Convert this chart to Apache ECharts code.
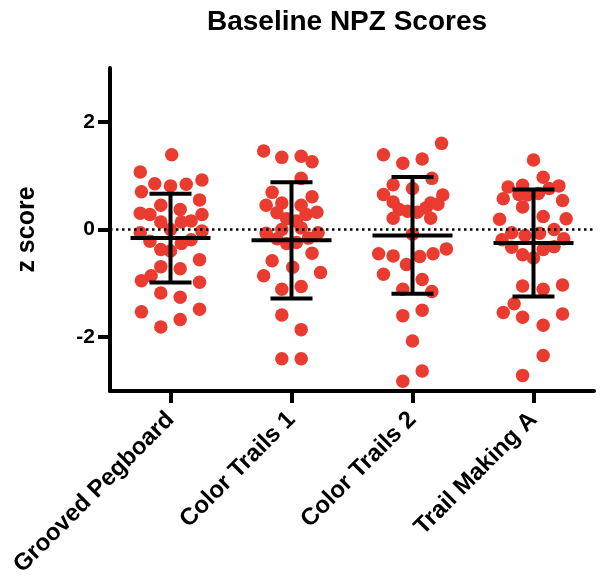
<!DOCTYPE html>
<html>
<head>
<meta charset="utf-8">
<script src="https://cdn.jsdelivr.net/npm/echarts@6/dist/echarts.min.js"></script>
<style>
html,body{margin:0;padding:0;background:#fff;}
#chart{width:602px;height:586px;}
</style>
</head>
<body>
<div id="chart"></div>
<script>
// ---- data ----
const chartTitle = 'Baseline NPZ Scores';
const yAxisName = 'z score';
const categories = ['Grooved Pegboard', 'Color Trails 1', 'Color Trails 2', 'Trail Making A'];
const yTickValues = [-2, 0, 2];

const groovedPegboard = [1.39, 1.07, 0.85, 0.81, 0.84, 0.92, 0.70, 0.55, 0.45, 0.37, 0.30, 0.28, 0.14, 0.28, 0.16, 0.14, 0.00, -0.06, -0.22, -0.03, -0.19, -0.26, -0.37, -0.40, -0.56, -0.69, -0.73, -0.86, -0.95, -0.98, -1.18, -1.26, -1.53, -1.48, -1.67, -1.81];
const groovedPegboardJitter = [0.01, -0.25, -0.13, 0.00, 0.13, 0.26, -0.24, 0.24, -0.08, 0.08, -0.25, -0.17, -0.08, 0.26, 0.17, 0.09, 0.00, -0.25, -0.17, 0.26, 0.17, 0.09, -0.08, 0.00, 0.24, -0.08, 0.08, -0.16, -0.24, 0.24, -0.08, 0.08, -0.24, 0.24, 0.08, -0.08];

const colorTrails1 = [1.46, 1.34, 1.36, 1.26, 0.95, 0.69, 0.61, 0.45, 0.49, 0.45, 0.32, 0.31, 0.20, 0.28, 0.16, 0.00, 0.03, -0.07, -0.06, -0.17, -0.26, -0.24, -0.16, -0.44, -0.58, -0.70, -0.86, -0.80, -1.11, -1.06, -1.59, -1.86, -2.40, -2.40];
const colorTrails1Jitter = [-0.23, -0.08, 0.08, 0.17, 0.08, -0.16, 0.17, -0.21, -0.08, 0.08, 0.21, -0.12, -0.04, 0.12, 0.04, -0.08, 0.08, -0.21, 0.22, -0.12, -0.04, 0.04, 0.14, 0.17, -0.16, 0.01, -0.23, 0.24, -0.08, 0.08, -0.08, 0.08, -0.08, 0.08];

const colorTrails2 = [1.60, 1.39, 1.23, 1.31, 0.95, 0.83, 0.76, 0.65, 0.64, 0.51, 0.49, 0.37, 0.34, 0.32, 0.40, 0.47, 0.21, 0.21, -0.09, -0.36, -0.45, -0.49, -0.50, -0.45, -0.65, -0.83, -0.93, -1.11, -1.15, -1.60, -1.50, -2.07, -2.63, -2.82];
const colorTrails2Jitter = [0.24, -0.24, -0.08, 0.08, 0.16, -0.16, 0.00, -0.24, 0.25, -0.16, 0.15, -0.11, -0.04, 0.04, 0.11, 0.21, -0.16, 0.15, 0.00, 0.28, -0.28, -0.16, 0.06, 0.17, -0.05, -0.24, 0.08, -0.08, 0.16, -0.08, 0.08, 0.00, 0.08, -0.08];

const trailMakingA = [1.29, 0.97, 0.79, 0.82, 0.76, 0.81, 0.57, 0.54, 0.65, 0.64, 0.67, 0.42, 0.19, 0.24, 0.20, 0.00, -0.19, -0.06, -0.11, -0.07, -0.17, -0.33, -0.47, -0.53, -0.37, -0.32, -1.05, -1.11, -1.03, -1.38, -1.54, -1.63, -1.57, -1.78, -2.34, -2.71];
const trailMakingAJitter = [0.00, 0.08, -0.21, -0.09, 0.13, 0.21, -0.25, 0.24, -0.12, -0.05, 0.04, -0.09, -0.28, 0.08, 0.27, 0.17, -0.26, -0.18, -0.07, 0.05, 0.25, -0.18, -0.09, 0.00, 0.08, 0.17, -0.09, 0.08, 0.24, -0.16, -0.25, -0.09, 0.24, 0.08, 0.08, -0.09];

const means = [-0.16, -0.20, -0.11, -0.25];
const sds = [0.825, 1.08, 1.085, 0.995];

// ---- build chart ----
const groups = [
  [groovedPegboard, groovedPegboardJitter],
  [colorTrails1, colorTrails1Jitter],
  [colorTrails2, colorTrails2Jitter],
  [trailMakingA, trailMakingAJitter]
];
const pointData = [];
groups.forEach(function (g, i) {
  g[0].forEach(function (v, k) { pointData.push([i + g[1][k], v]); });
});
const errData = means.map(function (m, i) { return [i, m, sds[i]]; });

const FONT = '"Liberation Sans", Arial, Helvetica, sans-serif';
const chart = echarts.init(document.getElementById('chart'), null, {renderer: 'canvas'});
chart.setOption({
  animation: false,
  backgroundColor: '#ffffff',
  graphic: [{
    type: 'text', x: 347, y: 8, z: 10,
    style: {text: chartTitle, fontFamily: FONT, fontWeight: 'bold', fontSize: 28, fill: '#000', textAlign: 'center', textVerticalAlign: 'top'}
  }],
  grid: {left: 110, right: 8, top: 68, bottom: 195, containLabel: false},
  xAxis: {
    type: 'value', min: -0.5, max: 3.5,
    splitLine: {show: false},
    axisLine: {show: true, onZero: false, lineStyle: {color: '#000', width: 4}},
    axisTick: {show: true, customValues: [0, 1, 2, 3], length: 12, lineStyle: {color: '#000', width: 4}},
    axisLabel: {
      show: true, customValues: [0, 1, 2, 3], rotate: 45, margin: 25,
      fontFamily: FONT, fontWeight: 'bold', fontSize: 24, color: '#000',
      formatter: function (v) { return categories[Math.round(v)] || ''; }
    }
  },
  yAxis: {
    type: 'value', min: -3, max: 3,
    name: yAxisName, nameLocation: 'middle', nameGap: 70, nameRotate: 90,
    nameTextStyle: {fontFamily: FONT, fontWeight: 'bold', fontSize: 25, color: '#000'},
    splitLine: {show: false},
    axisLine: {show: true, onZero: false, lineStyle: {color: '#000', width: 4}},
    axisTick: {show: true, customValues: yTickValues, length: 12, lineStyle: {color: '#000', width: 4}},
    axisLabel: {show: true, customValues: yTickValues, margin: 15, fontFamily: FONT, fontWeight: 'bold', fontSize: 21, color: '#000'}
  },
  series: [
    {
      type: 'scatter', data: [], z: 1, silent: true,
      markLine: {
        silent: true, symbol: 'none', label: {show: false},
        lineStyle: {color: '#000', width: 2.5, type: [2.5, 3.5]},
        data: [{yAxis: 0}]
      }
    },
    {
      type: 'scatter', z: 2, symbol: 'circle', symbolSize: 13.5,
      itemStyle: {color: '#E93B2F', opacity: 1},
      data: pointData
    },
    {
      type: 'custom', z: 3,
      renderItem: function (params, api) {
        const x = api.value(0), m = api.value(1), s = api.value(2);
        const pm = api.coord([x, m]);
        const pt = api.coord([x, m + s]);
        const pb = api.coord([x, m - s]);
        const cap = 21, half = 40;
        const st = {stroke: '#000', lineWidth: 4, fill: null};
        return {
          type: 'group',
          children: [
            {type: 'line', shape: {x1: pt[0], y1: pt[1], x2: pb[0], y2: pb[1]}, style: st},
            {type: 'line', shape: {x1: pt[0] - cap, y1: pt[1], x2: pt[0] + cap, y2: pt[1]}, style: st},
            {type: 'line', shape: {x1: pb[0] - cap, y1: pb[1], x2: pb[0] + cap, y2: pb[1]}, style: st},
            {type: 'line', shape: {x1: pm[0] - half, y1: pm[1], x2: pm[0] + half, y2: pm[1]}, style: st}
          ]
        };
      },
      data: errData
    }
  ]
});
</script>
</body>
</html>
